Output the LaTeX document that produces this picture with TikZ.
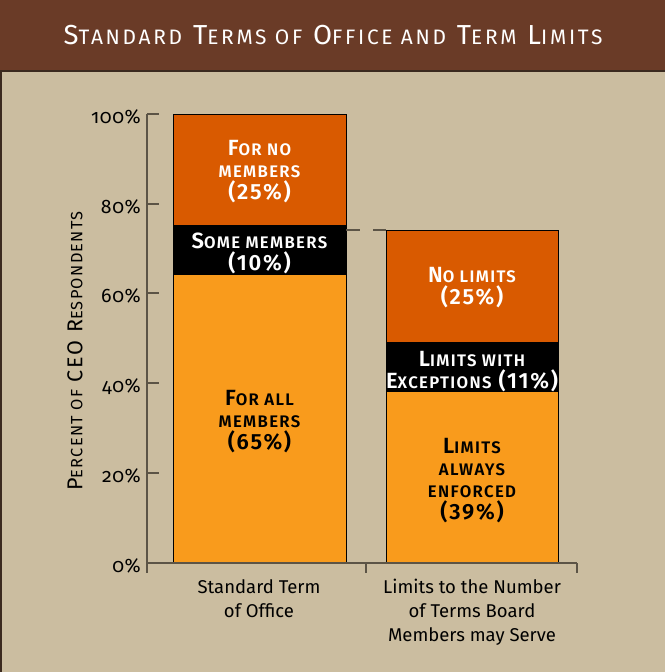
\documentclass[tikz,border=0pt]{standalone}
\usepackage{fontspec}
\setmainfont{Fira Sans}
\newfontfamily\oldfig[Numbers=OldStyle, LetterSpace=3]{Fira Sans}
\newfontfamily\capsfont[LetterSpace=8]{Fira Sans}
\newfontfamily\titlefont[LetterSpace=13]{Fira Sans}
\newfontfamily\labelfont[LetterSpace=8, BoldFont={Fira Sans SemiBold}]{Fira Sans}
\definecolor{beige}{HTML}{CBBDA0}
\definecolor{band}{HTML}{6A3B27}
\definecolor{bandline}{HTML}{3B2A1F}
\definecolor{axisgray}{HTML}{5C5446}
\definecolor{redorange}{HTML}{D95A00}
\definecolor{lightorange}{HTML}{F99B1C}
\makeatletter
\newcommand\lc[1]{{\fontsize{\the\dimexpr\f@size pt*76/100\relax}{\f@baselineskip}\selectfont\MakeUppercase{#1}}}
\makeatother
\tikzset{
  barline/.style={draw=black, line width=0.9pt},
  seglabel/.style={rectangle, draw=none, inner sep=0pt, align=center, font=\labelfont\bfseries\fontsize{22}{22}\selectfont},
  ticklabel/.style={rectangle, draw=none, inner sep=0pt, anchor=base east, font=\oldfig\fontsize{19.5}{20}\selectfont},
  catlabel/.style={rectangle, draw=none, inner sep=0pt, anchor=north, align=center, font=\fontsize{18.5}{24}\selectfont},
  axisline/.style={draw=axisgray, line width=1.3pt}
}
\begin{document}
\begin{tikzpicture}[x=1pt, y=-1pt]
%\draw[help lines, step=50pt] (0,0) grid (665,672);
\useasboundingbox (0,0) rectangle (665,672);
%%%%%%%%%%%%%%%%%%%%%%%%%%%%%%% Background and title band
\fill[beige] (0,0) rectangle (665,672);
\fill[band] (0,0) rectangle (665,71);
\draw[bandline, line width=1.5pt] (0,71) -- (665,71);
\draw[bandline, line width=1.5pt] (0.75,71) -- (0.75,672);
\node[rectangle, draw=none, inner sep=0pt, anchor=base, text=white, font=\titlefont\fontsize{27.5}{28}\selectfont](title) at (333,44){S\lc{tandard} T\lc{erms of} O\lc{ffice and} T\lc{erm} L\lc{imits}};
%%%%%%%%%%%%%%%%%%%%%%%%%%%%%%% Bars
\fill[lightorange] (173,275) rectangle (346,563);
\fill[black] (173,225) rectangle (346,275);
\fill[redorange] (173,114) rectangle (346,225);
\draw[barline] (173,114) rectangle (346,563);
\fill[lightorange] (386,392) rectangle (558,563);
\fill[black] (386,342) rectangle (558,392);
\fill[redorange] (386,230) rectangle (558,342);
\draw[barline] (386,230) rectangle (558,563);
\coordinate (tieA) at (346,230);
\coordinate (tieB) at (386,230);
\draw[axisgray, line width=1.3pt, dash pattern=on 14pt off 13pt] (tieA) -- (tieB);
%%%%%%%%%%%%%%%%%%%%%%%%%%%%%%% Axes
\draw[axisline] (147,114) -- (147,573);
\draw[axisline] (147,563) -- (577,563);
\foreach \yy/\pct in {114/100, 204/80, 293/60, 383/40, 473/20, 563/0}{
  \draw[axisline] (147,\yy) -- (159,\yy);
  \node[ticklabel](tick\pct) at (141,\yy+9){\pct\%};
}
\draw[axisline] (366,563) -- (366,573);
\draw[axisline] (577,563) -- (577,573);
\node[rectangle, draw=none, inner sep=0pt, rotate=90, font=\capsfont\fontsize{21.5}{21.5}\selectfont](yTitle) at (75,351){P\lc{ercent of} CEO R\lc{espondents}};
%%%%%%%%%%%%%%%%%%%%%%%%%%%%%%% Segment labels
\node[seglabel, text=white](noMembers) at (259.5,172){F\lc{or no}\\\lc{members}\\(25\%)};
\node[seglabel, text=white](someMembers) at (259.5,253){S\lc{ome members}\\(10\%)};
\node[seglabel, text=black](allMembers) at (259.5,422){F\lc{or all}\\\lc{members}\\(65\%)};
\node[seglabel, text=white](noLimits) at (472,288){N\lc{o limits}\\(25\%)};
\node[seglabel, text=white](withExc) at (472,372){L\lc{imits with}\\E\lc{xceptions} (11\%)};
\node[seglabel, text=black](enforced) at (472,481){L\lc{imits}\\\lc{always}\\\lc{enforced}\\(39\%)};
%%%%%%%%%%%%%%%%%%%%%%%%%%%%%%% Category labels
\node[catlabel](catStd) at (259,579){Standard Term\\of Office};
\node[catlabel](catLim) at (472,579){Limits to the Number\\of Terms Board\\Members may Serve};
\end{tikzpicture}
\end{document}
